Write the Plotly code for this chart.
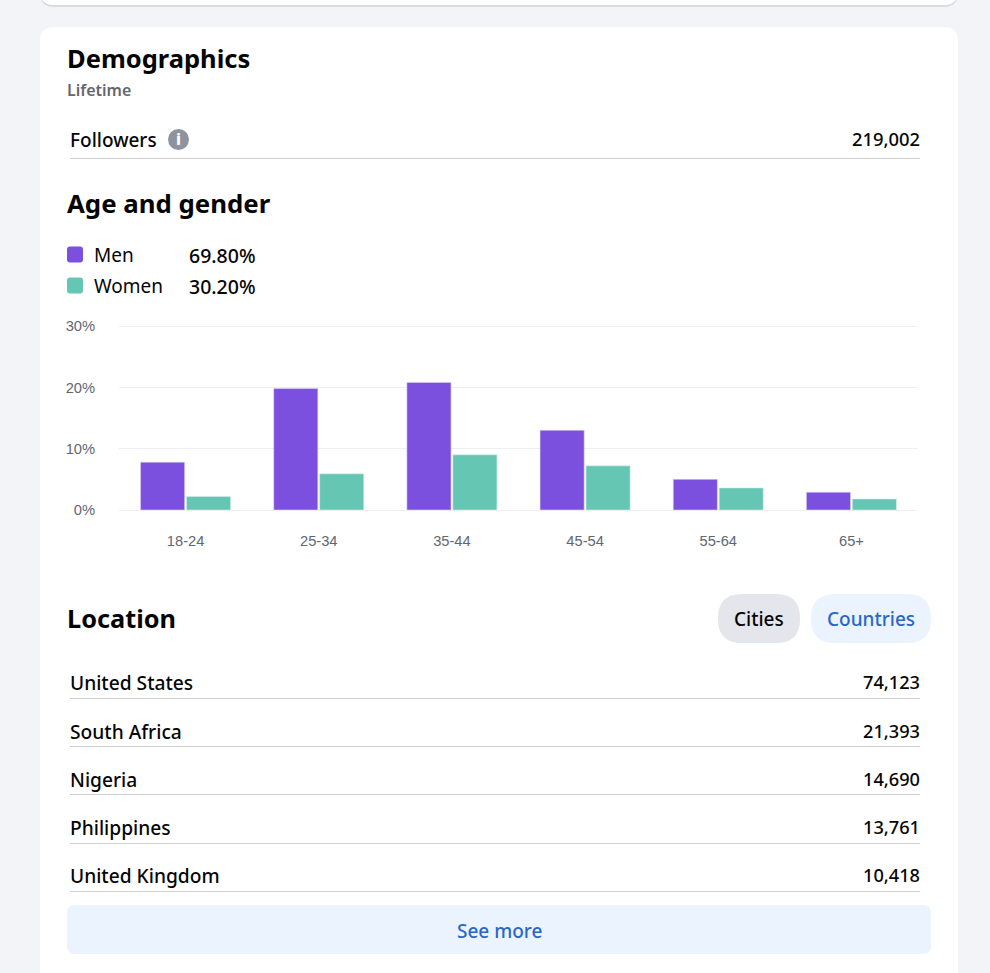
import plotly.graph_objects as go

W = 990
H = 973

age_groups = ["18-24", "25-34", "35-44", "45-54", "55-64", "65+"]
men = [7.8, 19.8, 20.8, 13.0, 5.0, 2.9]
women = [2.2, 5.9, 9.0, 7.2, 3.6, 1.8]
y_ticks = [0, 10, 20, 30]

gender_names = ["Men", "Women"]
gender_shares = ["69.80%", "30.20%"]

countries = ["United States", "South Africa", "Nigeria", "Philippines", "United Kingdom"]
country_followers = ["74,123", "21,393", "14,690", "13,761", "10,418"]
followers_total = "219,002"

PURPLE = "#7B50DE"
TEAL = "#65C6B4"
PAGE_BG = "#F2F4F8"
BLUE = "#2A66C9"
PALE_BLUE = "#EBF4FE"
UI_FONT = "Noto Sans"


def px(x):
    return x / W


def py(y):
    return 1 - y / H


def rounded(x0, y0, x1, y1, r):
    # rounded rectangle as an svg path, in paper coords
    pts = [
        f"M {px(x0 + r)} {py(y0)}",
        f"L {px(x1 - r)} {py(y0)}",
        f"Q {px(x1)} {py(y0)} {px(x1)} {py(y0 + r)}",
        f"L {px(x1)} {py(y1 - r)}",
        f"Q {px(x1)} {py(y1)} {px(x1 - r)} {py(y1)}",
        f"L {px(x0 + r)} {py(y1)}",
        f"Q {px(x0)} {py(y1)} {px(x0)} {py(y1 - r)}",
        f"L {px(x0)} {py(y0 + r)}",
        f"Q {px(x0)} {py(y0)} {px(x0 + r)} {py(y0)}",
        "Z",
    ]
    return " ".join(pts)


shapes = []
annotations = []


def box(x0, y0, x1, y1, r, color):
    shapes.append(dict(type="path", path=rounded(x0, y0, x1, y1, r), xref="paper", yref="paper",
                       fillcolor=color, line_width=0, layer="below"))


def rule(y):
    shapes.append(dict(type="line", x0=px(70), x1=px(920), y0=py(y), y1=py(y), xref="paper", yref="paper",
                       line=dict(color="#CED0D4", width=1), layer="below"))


def text(x, y, s, size, color="#050505", anchor="left", weight=400, family=UI_FONT):
    # noto side bearing + annotation padding eat about a pixel
    if anchor == "left":
        x -= 1
    elif anchor == "right":
        x += 1
    annotations.append(dict(x=px(x), y=py(y), xref="paper", yref="paper", text=s, showarrow=False,
                            xanchor=anchor, yanchor="middle", borderpad=0,
                            font=dict(family=family, size=size, color=color, weight=weight)))


# cards
box(40, -30, 958, 7, 14, "#D9DBE0")
box(40, -30, 958, 5, 14, "#FFFFFF")
box(40, 27, 958, 1010, 14, "#FFFFFF")

text(67, 58, "Demographics", 25.5, weight=700)
text(67, 90, "Lifetime", 16, color="#65676B", weight=600)

text(70, 140, "Followers", 19, weight=500)
shapes.append(dict(type="circle", x0=px(168), x1=px(189), y0=py(150), y1=py(129), xref="paper", yref="paper",
                   fillcolor="#8D949E", line_width=0, layer="below"))
text(178.5, 139.5, "i", 16, color="#FFFFFF", anchor="center", weight=800)
text(920, 139, followers_total, 18.4, anchor="right", weight=500)
rule(158.5)

text(67, 203, "Age and gender", 25.8, weight=700)

# legend rows
for name, share, color, y in zip(gender_names, gender_shares, [PURPLE, TEAL], [254.5, 285.5]):
    box(67, y - 8, 83, y + 8, 3, color)
    text(94, y + 0.5, name, 19)
    text(189, y + 0.5, share, 19.5, weight=500)

text(67, 618, "Location", 25.3, weight=700)
box(718, 594, 800, 643, 24, "#E4E6EB")
text(759, 619, "Cities", 19, anchor="center", weight=500)
box(811, 594, 931, 643, 24, PALE_BLUE)
text(871, 619, "Countries", 19, color=BLUE, anchor="center", weight=500)

for name, val, y, line_y in zip(countries, country_followers, [682, 731, 779, 827, 875],
                                [698.5, 746.5, 794.5, 843.5, 891.5]):
    text(70, y, name, 19.2, weight=500)
    text(920, y, val, 18.2, anchor="right", weight=500)
    rule(line_y)

box(67, 905, 931, 954, 8, PALE_BLUE)
text(499, 931, "See more", 19, color=BLUE, anchor="center", weight=500)

fig = go.Figure()
fig.add_bar(x=age_groups, y=men, name="Men", marker=dict(color=PURPLE, line=dict(color="#DCD2F6", width=0.6)))
fig.add_bar(x=age_groups, y=women, name="Women", marker=dict(color=TEAL, line=dict(color="#D5F0EA", width=0.6)))

fig.update_layout(
    width=W,
    height=H,
    margin=dict(l=0, r=0, t=0, b=0),
    paper_bgcolor=PAGE_BG,
    plot_bgcolor="rgba(0,0,0,0)",
    barmode="group",
    bargap=0.31,
    bargroupgap=0.04,
    showlegend=False,
    shapes=shapes,
    annotations=annotations,
    xaxis=dict(
        domain=[px(119), px(918)],
        automargin=False,
        showgrid=False,
        showline=False,
        ticks="outside",
        ticklen=17,
        tickcolor="rgba(0,0,0,0)",
        tickfont=dict(family="Liberation Sans", size=14.7, color="#606770"),
    ),
    yaxis=dict(
        # a little headroom past 30 so plotly keeps the top gridline
        domain=[py(510), py(324.2)],
        automargin=False,
        range=[0, 30.3],
        tickvals=y_ticks,
        ticktext=[f"{v}%" for v in y_ticks],
        gridcolor="#EEEEF0",
        gridwidth=1.3,
        zeroline=True,
        zerolinecolor="#EEEEF0",
        zerolinewidth=1.3,
        ticks="outside",
        ticklen=20,
        tickcolor="rgba(0,0,0,0)",
        tickfont=dict(family="Liberation Sans", size=14.7, color="#606770"),
    ),
)

fig.write_html("out.html", config={"displayModeBar": False},
               post_script="document.body.style.margin='0';document.body.style.overflow='hidden';")
